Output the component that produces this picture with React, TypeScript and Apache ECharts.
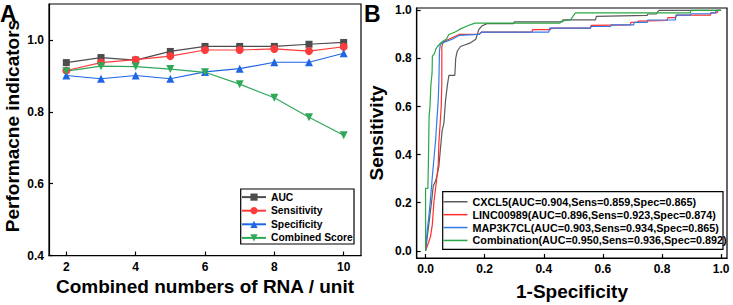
import React, { useEffect, useRef } from "react";
import * as echarts from "echarts";

const rnaCounts = [2, 3, 4, 5, 6, 7, 8, 9, 10];
const auc = [0.937, 0.951, 0.944, 0.968, 0.982, 0.982, 0.982, 0.988, 0.993];
const sensitivity = [0.915, 0.937, 0.945, 0.955, 0.972, 0.972, 0.975, 0.969, 0.981];
const specificity = [0.901, 0.892, 0.901, 0.892, 0.911, 0.92, 0.938, 0.938, 0.963];
const combinedScore = [0.913, 0.927, 0.926, 0.919, 0.91, 0.877, 0.839, 0.785, 0.735];
const leftXTicks = [2, 4, 6, 8, 10];
const leftYTicks = [0.4, 0.6, 0.8, 1.0];
const rocTicks = [0, 0.2, 0.4, 0.6, 0.8, 1.0];

const cxcl5Roc = [
  [0, 0], [0.005, 0.05], [0.012, 0.12], [0.02, 0.2], [0.026, 0.27], [0.034, 0.29], [0.04, 0.32],
  [0.045, 0.35], [0.05, 0.42], [0.056, 0.5], [0.062, 0.53], [0.066, 0.6], [0.068, 0.63],
  [0.074, 0.69], [0.079, 0.73], [0.099, 0.73], [0.102, 0.8], [0.107, 0.83], [0.118, 0.85],
  [0.152, 0.865], [0.17, 0.88], [0.175, 0.9], [0.18, 0.92], [0.19, 0.935], [0.208, 0.945],
  [0.298, 0.945], [0.3, 0.952], [0.463, 0.952], [0.465, 0.961], [0.575, 0.961], [0.578, 0.975],
  [0.75, 0.979], [0.752, 0.985], [0.78, 0.985], [0.79, 1.0], [1, 1]
];
const linc00989Roc = [
  [0, 0], [0.006, 0.02], [0.017, 0.06], [0.023, 0.11], [0.028, 0.2], [0.036, 0.28], [0.043, 0.36],
  [0.045, 0.45], [0.05, 0.54], [0.053, 0.6], [0.055, 0.7], [0.055, 0.85], [0.06, 0.87],
  [0.079, 0.88], [0.113, 0.9], [0.18, 0.9], [0.19, 0.91], [0.36, 0.91], [0.362, 0.92],
  [0.423, 0.92], [0.425, 0.926], [0.558, 0.926], [0.56, 0.938], [0.693, 0.94], [0.695, 0.95],
  [0.716, 0.95], [0.72, 0.955], [0.817, 0.958], [0.82, 0.97], [0.845, 0.97], [0.848, 0.98],
  [0.964, 0.98], [0.966, 0.99], [0.986, 0.99], [0.99, 1], [1, 1]
];
const map3k7clRoc = [
  [0, 0], [0.006, 0.09], [0.011, 0.14], [0.017, 0.22], [0.023, 0.31], [0.028, 0.38], [0.034, 0.46],
  [0.036, 0.5], [0.043, 0.63], [0.045, 0.7], [0.047, 0.83], [0.05, 0.86], [0.068, 0.87],
  [0.09, 0.88], [0.113, 0.896], [0.18, 0.9], [0.19, 0.91], [0.417, 0.91], [0.42, 0.926],
  [0.558, 0.926], [0.56, 0.933], [0.626, 0.933], [0.628, 0.94], [0.704, 0.94], [0.706, 0.95],
  [0.75, 0.95], [0.752, 0.96], [0.845, 0.96], [0.848, 0.98], [0.896, 0.98], [0.898, 0.986],
  [0.964, 0.986], [0.966, 0.99], [0.98, 0.99], [0.985, 1], [1, 1]
];
const combinationRoc = [
  [0, 0], [0, 0.26], [0.008, 0.26], [0.01, 0.4], [0.012, 0.56], [0.015, 0.6], [0.018, 0.69],
  [0.022, 0.74], [0.023, 0.81], [0.03, 0.82], [0.035, 0.84], [0.04, 0.85], [0.056, 0.87],
  [0.07, 0.88], [0.079, 0.9], [0.1, 0.91], [0.113, 0.92], [0.14, 0.935], [0.167, 0.947],
  [0.455, 0.947], [0.457, 0.955], [0.49, 0.96], [0.507, 0.99], [0.896, 0.99], [0.898, 1], [1, 1]
];

const FONT = "'Liberation Sans', Arial, sans-serif";

export default function App() {
  const ref = useRef<HTMLDivElement>(null);
  useEffect(() => {
    if (!ref.current) return;
    const chart = echarts.init(ref.current, null, { renderer: "svg" });
    const axisCommon = {
      axisLine: { show: true, onZero: false, lineStyle: { color: "#000", width: 1.2 } },
      axisTick: { show: true, inside: true, length: 4, lineStyle: { color: "#000", width: 1.2 } },
      splitLine: { show: false },
    };
    const label = (fmt: (v: number) => string, customValues: number[]) => ({
      color: "#000",
      fontFamily: FONT,
      fontWeight: "bold",
      fontSize: 12,
      margin: 5,
      customValues,
      formatter: fmt,
    });
    const lineSeries = (name: string, data: number[], color: string, symbol: string, size: number, rotate = 0) => ({
      name,
      type: "line",
      xAxisIndex: 0,
      yAxisIndex: 0,
      data: rnaCounts.map((x, i) => [x, data[i]]),
      symbol,
      symbolSize: size,
      symbolRotate: rotate,
      showSymbol: true,
      lineStyle: { color, width: 1.2 },
      itemStyle: { color },
    });
    const rocSeries = (name: string, data: number[][], color: string) => ({
      name,
      type: "line",
      xAxisIndex: 1,
      yAxisIndex: 1,
      data,
      symbol: "none",
      showSymbol: false,
      lineStyle: { color, width: 1.2 },
      itemStyle: { color },
    });
    chart.setOption({
      animation: false,
      backgroundColor: "#fff",
      grid: [
        { left: 49, top: 4, width: 312, height: 251.6, show: true, borderColor: "#000", borderWidth: 1.2, backgroundColor: "transparent" },
        { left: 416.7, top: 8, width: 310.3, height: 250, show: true, borderColor: "#000", borderWidth: 1.2, backgroundColor: "transparent" },
      ],
      xAxis: [
        {
          type: "value", gridIndex: 0, min: 1.5, max: 10.5, ...axisCommon,
          axisTick: { ...axisCommon.axisTick, customValues: leftXTicks },
          axisLabel: label((v) => String(v), leftXTicks),
        },
        {
          type: "value", gridIndex: 1, min: -0.03, max: 1.02, ...axisCommon,
          axisTick: { ...axisCommon.axisTick, customValues: rocTicks },
          axisLabel: label((v) => v.toFixed(1), rocTicks),
        },
      ],
      yAxis: [
        {
          type: "value", gridIndex: 0, min: 0.4, max: 1.1, ...axisCommon,
          axisTick: { ...axisCommon.axisTick, customValues: leftYTicks },
          axisLabel: label((v) => v.toFixed(1), leftYTicks),
        },
        {
          type: "value", gridIndex: 1, min: -0.03, max: 1.01, ...axisCommon,
          axisTick: { ...axisCommon.axisTick, customValues: rocTicks },
          axisLabel: label((v) => v.toFixed(1), rocTicks),
        },
      ],
      legend: [
        {
          data: ["AUC", "Sensitivity", "Specificity", "Combined Score"],
          orient: "vertical",
          left: 241,
          top: 190.3,
          padding: 0,
          itemGap: 0,
          itemWidth: 24,
          itemHeight: 9,
          z: 60,
          textStyle: { fontFamily: FONT, fontWeight: "bold", fontSize: 10.3, color: "#000", lineHeight: 13.6 },
        },
        {
          data: [
            "CXCL5(AUC=0.904,Sens=0.859,Spec=0.865)",
            "LINC00989(AUC=0.896,Sens=0.923,Spec=0.874)",
            "MAP3K7CL(AUC=0.903,Sens=0.934,Spec=0.865)",
            "Combination(AUC=0.950,Sens=0.936,Spec=0.892)",
          ],
          orient: "vertical",
          left: 443.5,
          top: 195.3,
          padding: 0,
          itemGap: 0,
          itemWidth: 24,
          itemHeight: 1.5,
          icon: "rect",
          z: 60,
          textStyle: { fontFamily: FONT, fontWeight: "bold", fontSize: 10.8, color: "#000", lineHeight: 12.9 },
        },
      ],
      graphic: [
        { type: "rect", z: 50, shape: { x: 240.7, y: 189, width: 113.3, height: 55 }, style: { fill: "#fff", stroke: "#000", lineWidth: 1.2 } },
        { type: "rect", z: 50, shape: { x: 442.7, y: 191.7, width: 280.3, height: 57.6 }, style: { fill: "#fff", stroke: "#000", lineWidth: 1.2 } },
        { type: "text", left: 0, top: 2, style: { text: "A", font: `bold 23px ${FONT}`, fill: "#000" } },
        { type: "text", left: 364, top: 2, style: { text: "B", font: `bold 23px ${FONT}`, fill: "#000" } },
        { type: "text", x: 12, y: 126, rotation: Math.PI / 2, style: { text: "Performacne indicators", font: `bold 19px ${FONT}`, fill: "#000", align: "center", verticalAlign: "middle" } },
        { type: "text", x: 205, y: 286, style: { text: "Combined numbers of RNA / unit", font: `bold 19px ${FONT}`, fill: "#000", align: "center", verticalAlign: "middle" } },
        { type: "text", x: 376, y: 133, rotation: Math.PI / 2, style: { text: "Sensitivity", font: `bold 19px ${FONT}`, fill: "#000", align: "center", verticalAlign: "middle" } },
        { type: "text", x: 572, y: 291, style: { text: "1-Specificity", font: `bold 19px ${FONT}`, fill: "#000", align: "center", verticalAlign: "middle" } },
      ],
      series: [
        lineSeries("AUC", auc, "#4d4d4d", "rect", 7),
        lineSeries("Sensitivity", sensitivity, "#ff3b3b", "circle", 8),
        lineSeries("Specificity", specificity, "#1f66e5", "triangle", 8),
        lineSeries("Combined Score", combinedScore, "#2fa85a", "triangle", 8, 180),
        rocSeries("CXCL5(AUC=0.904,Sens=0.859,Spec=0.865)", cxcl5Roc, "#5a5a5a"),
        rocSeries("LINC00989(AUC=0.896,Sens=0.923,Spec=0.874)", linc00989Roc, "#ff2e2e"),
        rocSeries("MAP3K7CL(AUC=0.903,Sens=0.934,Spec=0.865)", map3k7clRoc, "#2f7be8"),
        rocSeries("Combination(AUC=0.950,Sens=0.936,Spec=0.892)", combinationRoc, "#27a845"),
      ],
    });
    return () => chart.dispose();
  }, []);
  return (
    <div
      ref={ref}
      style={{ position: "fixed", left: 0, top: 0, width: 733, height: 305, background: "#fff" }}
    />
  );
}
